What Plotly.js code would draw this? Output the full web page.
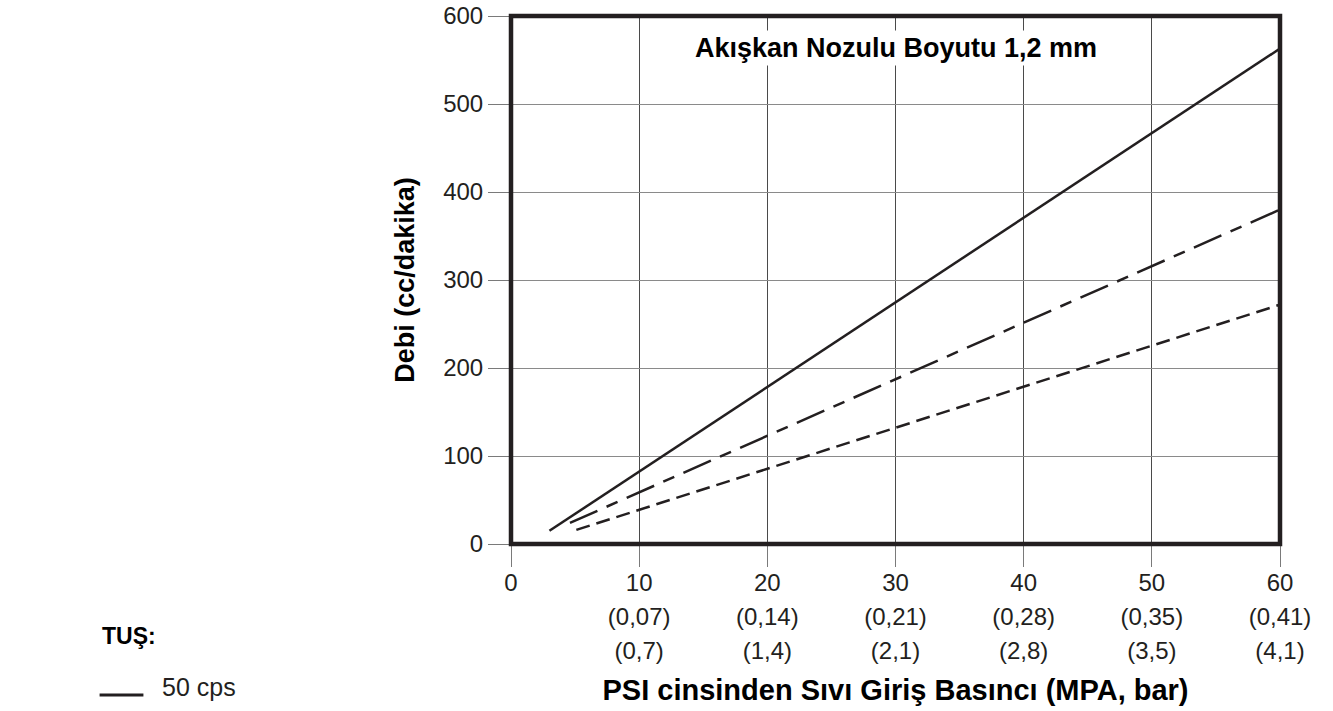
<!DOCTYPE html>
<html>
<head>
<meta charset="utf-8">
<script src="https://cdn.plot.ly/plotly-3.0.1.min.js"></script>
<style>
  html, body { margin: 0; padding: 0; background: #ffffff; }
  #chart { width: 1333px; height: 711px; }
</style>
</head>
<body>
<div id="chart"></div>
<script>
// ---- Data ----
const chartTitle = "Akışkan Nozulu Boyutu 1,2 mm";
const xTitle = "PSI cinsinden Sıvı Giriş Basıncı (MPA, bar)";
const yTitle = "Debi (cc/dakika)";
const legendTitle = "TUŞ:";

const psiTicks = [0, 10, 20, 30, 40, 50, 60];
const mpaLabels = ["", "(0,07)", "(0,14)", "(0,21)", "(0,28)", "(0,35)", "(0,41)"];
const barLabels = ["", "(0,7)", "(1,4)", "(2,1)", "(2,8)", "(3,5)", "(4,1)"];
const yTicks = [0, 100, 200, 300, 400, 500, 600];

// series (pressure in psi, flow in cc/min)
const seriesNames = ["50 cps", "", ""];
const psi50 = [3, 60];
const flow50 = [15, 563];
const psiB = [4.6, 60];
const flowB = [24, 380];
const psiC = [5.1, 60];
const flowC = [16, 272];

const ink = "#231f20";
const FONT = "Liberation Sans, Arial, sans-serif";

const sp = s => "<span style='font-size:24px'>" + s + "</span>";
const tickText = psiTicks.map((v, i) =>
  mpaLabels[i] ? (sp(v) + "<br>" + sp(mpaLabels[i]) + "<br>" + sp(barLabels[i])) : sp(String(v)));

const traces = [
  { x: psi50, y: flow50, name: seriesNames[0], mode: "lines",
    line: { color: ink, width: 2.5 }, hoverinfo: "x+y" },
  { x: psiB, y: flowB, name: seriesNames[1], mode: "lines",
    line: { color: ink, width: 2.5, dash: "30px,10px,12px,10px" }, hoverinfo: "x+y" },
  { x: psiC, y: flowC, name: seriesNames[2], mode: "lines",
    line: { color: ink, width: 2.5, dash: "14px,7px" }, hoverinfo: "x+y" }
];

const layout = {
  width: 1333, height: 711,
  margin: { l: 511, r: 53, t: 16, b: 167, pad: 0 },
  paper_bgcolor: "#ffffff", plot_bgcolor: "#ffffff",
  showlegend: false,
  font: { family: FONT, color: ink, size: 24 },
  xaxis: {
    range: [0, 60], tickmode: "array", tickvals: psiTicks, ticktext: tickText,
    ticks: "outside", ticklen: 22, tickwidth: 1, tickcolor: "#7a7a7a",
    ticklabelstandoff: -7,
    showgrid: true, gridcolor: "#4a4a4a", gridwidth: 1,
    zeroline: false, showline: false, fixedrange: true,
    tickfont: { family: FONT, size: 26, color: ink },
    title: { text: "<b>" + xTitle + "</b>", font: { family: FONT, size: 29, color: "#000" }, standoff: 16 }
  },
  yaxis: {
    range: [0, 600], tickmode: "array", tickvals: yTicks,
    ticks: "outside", ticklen: 22, tickwidth: 1, tickcolor: "#7a7a7a",
    showgrid: true, gridcolor: "#8a8a8a", gridwidth: 1,
    zeroline: false, showline: false, fixedrange: true,
    tickfont: { family: FONT, size: 24, color: ink },
    title: { text: "<b>" + yTitle + "</b>", font: { family: FONT, size: 27, color: "#000" }, standoff: 20 }
  },
  shapes: [
    { type: "rect", xref: "paper", yref: "paper", x0: 0, x1: 1, y0: 0, y1: 1,
      line: { color: ink, width: 4.5 }, layer: "above" },
    // legend key line
    { type: "line", xref: "paper", yref: "paper", x0: -0.535, x1: -0.478, y0: -0.286, y1: -0.286,
      line: { color: ink, width: 3 } }
  ],
  annotations: [
    { text: "<b>" + chartTitle + "</b>", xref: "x", yref: "paper", x: 30, y: 0.94,
      xanchor: "center", yanchor: "middle", showarrow: false, bgcolor: "#ffffff",
      borderpad: 2, font: { family: FONT, size: 27, color: "#000" } },
    { text: "<b>" + legendTitle + "</b>", xref: "paper", yref: "paper", x: -0.535, y: -0.175,
      xanchor: "left", yanchor: "middle", showarrow: false, font: { family: FONT, size: 23, color: "#000" } },
    { text: seriesNames[0], xref: "paper", yref: "paper", x: -0.457, y: -0.27,
      xanchor: "left", yanchor: "middle", showarrow: false, font: { family: FONT, size: 25, color: ink } }
  ]
};

Plotly.newPlot("chart", traces, layout, { displayModeBar: false, staticPlot: true });
</script>
</body>
</html>
